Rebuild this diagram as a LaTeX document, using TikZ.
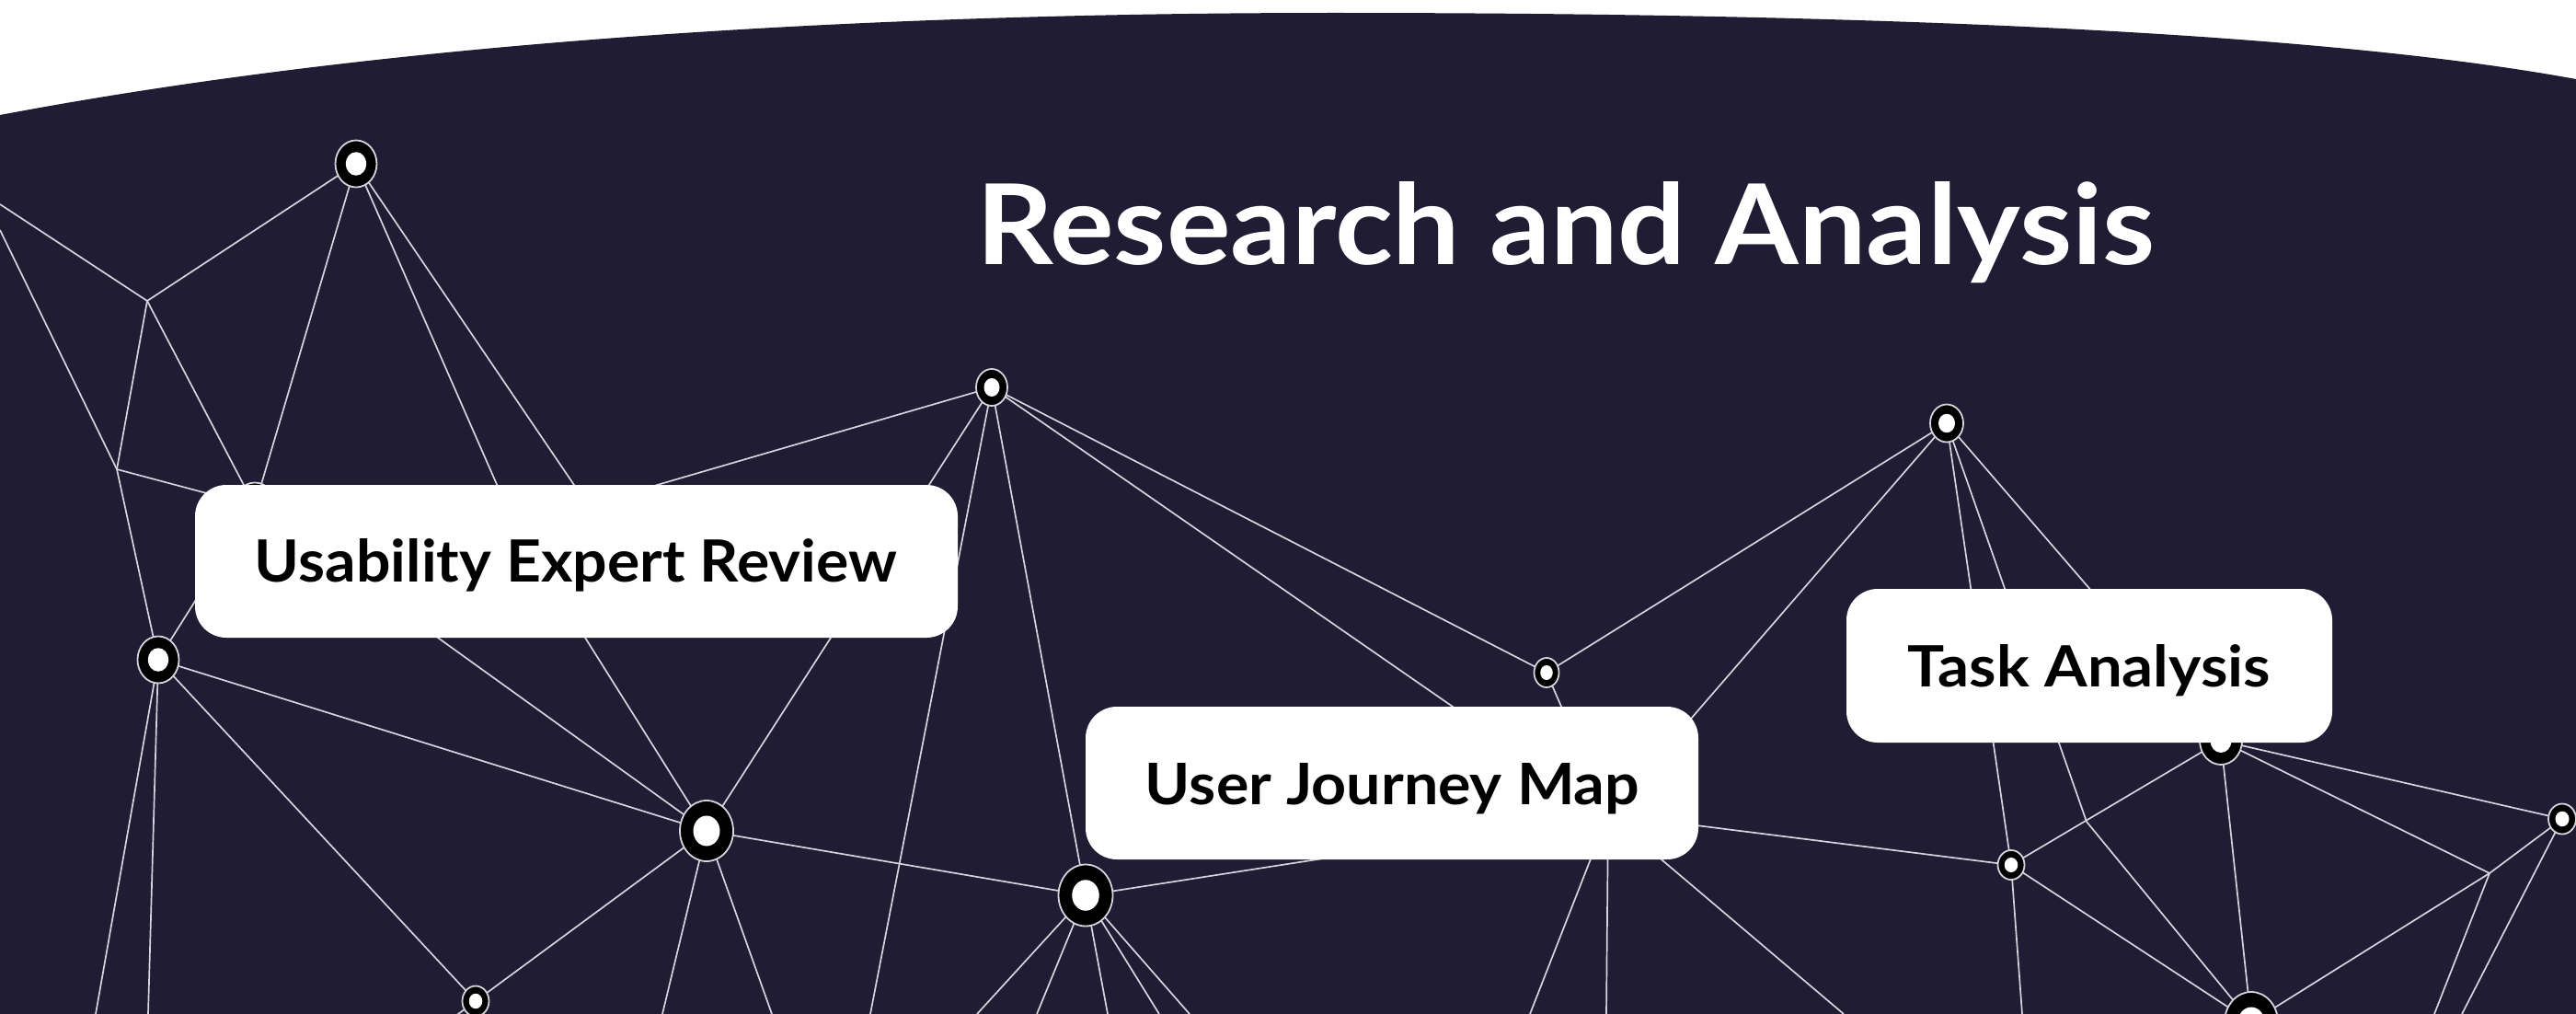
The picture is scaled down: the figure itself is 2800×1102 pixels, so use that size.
\documentclass[tikz,border=0pt]{standalone}
\usepackage{fontspec}
\setmainfont{Lato}
\usetikzlibrary{shapes.geometric}
\definecolor{bgnavy}{RGB}{31,28,51}
\definecolor{wire}{RGB}{212,212,220}
\tikzset{
  wireline/.style={draw=wire, line width=1.7pt},
  ring/.style 2 args={ellipse, fill=black, draw=wire, line width=1.8pt,
    minimum width=#1, minimum height=#2, inner sep=0pt,
    path picture={\fill[white] (path picture bounding box.center) ellipse ({0.25*#1} and {0.25*#2});}},
  labelbox/.style={fill=white, rounded corners=34pt, inner sep=0pt},
  labeltext/.style={anchor=base, inner sep=0pt, text=black, font=\bfseries},
  titletext/.style={anchor=base, inner sep=0pt, text=white, font=\bfseries}
}
\begin{document}
\begin{tikzpicture}[x=1pt,y=-1pt]
\useasboundingbox (0,0) rectangle (2800,1102);
\fill[white] (0,0) rectangle (2800,1102);
\fill[bgnavy] (0,125) .. controls (460,38) and (1000,14) .. (1450,14)
  .. controls (2100,14) and (2550,40) .. (2800,86) -- (2800,1102) -- (0,1102) -- cycle;

% network points
\coordinate (A) at (387,178);
\coordinate (B) at (1078,421);
\coordinate (C) at (2116,460);
\coordinate (D) at (1681,731);
\coordinate (E) at (172,717);
\coordinate (F) at (768,903);
\coordinate (G) at (1180,973);
\coordinate (H) at (517,1088);
\coordinate (I) at (2414,805);
\coordinate (J) at (2186,940);
\coordinate (K) at (2785,890);
\coordinate (L) at (2447,1111);
\coordinate (M) at (277,550);
\coordinate (N0) at (560,572);
\coordinate (N0b) at (660,580);
\coordinate (N1) at (1748,885);
\coordinate (P1) at (160,327);
\coordinate (P2) at (127,510);
\coordinate (P3) at (2268,893);
\coordinate (P4) at (2706,949);
% free ends
\coordinate (eA) at (0,222);
\coordinate (eB) at (0,250);
\coordinate (eE1) at (104,1102);
\coordinate (eE2) at (161,1102);
\coordinate (eH) at (475,1119);
\coordinate (eF1) at (720,1102);
\coordinate (eF2) at (839,1102);
\coordinate (eB2) at (946,1102);
\coordinate (eG1) at (1062,1102);
\coordinate (eG2) at (1127,1102);
\coordinate (eG3) at (1204,1102);
\coordinate (eG4) at (1260,1102);
\coordinate (eG5) at (1293,1102);
\coordinate (eN1) at (1746,1102);
\coordinate (eN2) at (1663,1102);
\coordinate (eN3) at (2004,1102);
\coordinate (eJ) at (2198,1102);
\coordinate (eP4) at (2646,1102);
\coordinate (eK) at (2676,1102);

% connectors
\draw[wireline] (eA) -- (P1);
\draw[wireline] (eB) -- (P2);
\draw[wireline] (A) -- (P1);
\draw[wireline] (P1) -- (P2);
\draw[wireline] (P1) -- (M);
\draw[wireline] (A) -- (M);
\draw[wireline] (P2) -- (M);
\draw[wireline] (P2) -- (E);
\draw[wireline] (A) -- (N0);
\draw[wireline] (A) -- (N0b);
\draw[wireline] (B) -- (N0);
\draw[wireline] (E) -- (M);
\draw[wireline] (E) -- (eE1);
\draw[wireline] (E) -- (eE2);
\draw[wireline] (E) -- (F);
\draw[wireline] (E) -- (H);
\draw[wireline] (M) -- (F);
\draw[wireline] (N0) -- (F);
\draw[wireline] (B) -- (F);
\draw[wireline] (F) -- (H);
\draw[wireline] (H) -- (eH);
\draw[wireline] (F) -- (G);
\draw[wireline] (F) -- (eF1);
\draw[wireline] (F) -- (eF2);
\draw[wireline] (B) -- (eB2);
\draw[wireline] (B) -- (G);
\draw[wireline] (B) -- (N1);
\draw[wireline] (B) -- (D);
\draw[wireline] (C) -- (D);
\draw[wireline] (C) -- (N1);
\draw[wireline] (D) -- (N1);
\draw[wireline] (C) -- (J);
\draw[wireline] (C) -- (P3);
\draw[wireline] (C) -- (I);
\draw[wireline] (N1) -- (G);
\draw[wireline] (N1) -- (eN1);
\draw[wireline] (N1) -- (eN2);
\draw[wireline] (N1) -- (eN3);
\draw[wireline] (N1) -- (J);
\draw[wireline] (G) -- (eG1);
\draw[wireline] (G) -- (eG2);
\draw[wireline] (G) -- (eG3);
\draw[wireline] (G) -- (eG4);
\draw[wireline] (G) -- (eG5);
\draw[wireline] (I) -- (K);
\draw[wireline] (I) -- (P4);
\draw[wireline] (I) -- (J);
\draw[wireline] (I) -- (L);
\draw[wireline] (J) -- (L);
\draw[wireline] (J) -- (eJ);
\draw[wireline] (P3) -- (L);
\draw[wireline] (L) -- (P4);
\draw[wireline] (P4) -- (K);
\draw[wireline] (P4) -- (eP4);
\draw[wireline] (K) -- (eK);

% rings
\node[ring={45pt}{51pt}] (rA) at (A) {};
\node[ring={34pt}{40pt}] (rB) at (B) {};
\node[ring={36pt}{41pt}] (rC) at (C) {};
\node[ring={27pt}{32pt}] (rD) at (D) {};
\node[ring={45pt}{51pt}] (rE) at (E) {};
\node[ring={58pt}{66pt}] (rF) at (F) {};
\node[ring={59pt}{67pt}] (rG) at (G) {};
\node[ring={29pt}{33pt}] (rH) at (H) {};
\node[ring={46pt}{52pt}] (rI) at (I) {};
\node[ring={29pt}{32pt}] (rJ) at (J) {};
\node[ring={30pt}{33pt}] (rK) at (K) {};
\node[ring={58pt}{66pt}] (rL) at (L) {};
\node[ring={45pt}{51pt}] (rM) at (M) {};

% label boxes
\node[labelbox, minimum width=829pt, minimum height=166pt] (uerbox) at (626.5,610) {};
\node[labelbox, minimum width=666pt, minimum height=166pt] (ujmbox) at (1513,851) {};
\node[labelbox, minimum width=528pt, minimum height=167pt] (tabox) at (2271,723.5) {};

\node[labeltext] (uertext) at (626,632) {\resizebox{698pt}{47pt}{Usability Expert Review}};
\node[labeltext] (ujmtext) at (1513.5,874) {\resizebox{537pt}{45pt}{User Journey Map}};
\node[labeltext] (tatext) at (2271,746) {\resizebox{394pt}{46pt}{Task Analysis}};

% title
\node[titletext] (title) at (1702,287.5) {\resizebox{1280pt}{90pt}{Research and Analysis}};
\end{tikzpicture}
\end{document}
